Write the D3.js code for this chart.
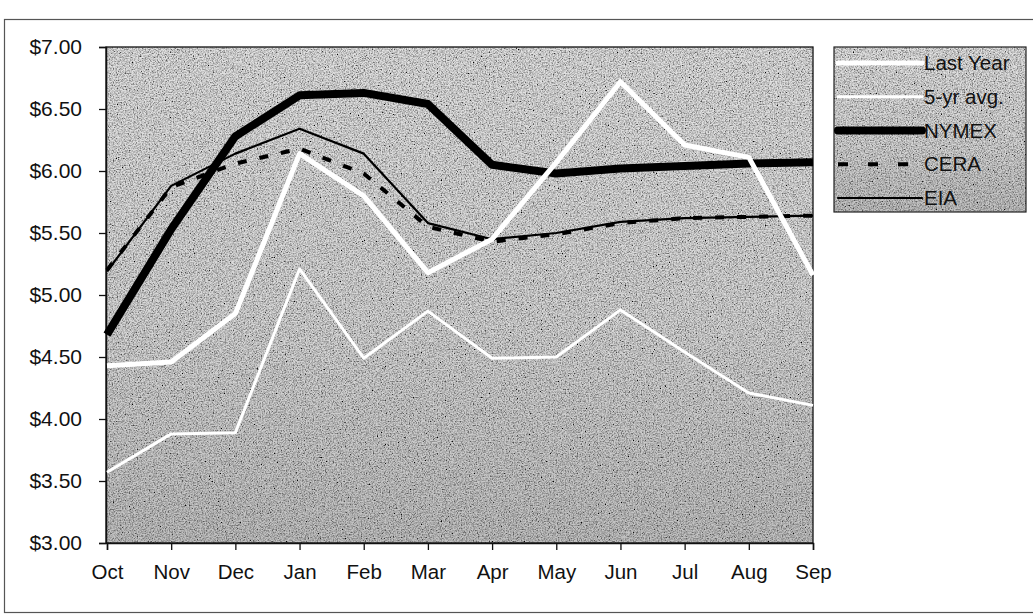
<!DOCTYPE html>
<html>
<head>
<meta charset="utf-8">
<script src="https://cdn.jsdelivr.net/npm/d3@7"></script>
<style>
  html, body { margin: 0; padding: 0; background: #fff; }
  svg { display: block; }
  text { font-family: "Liberation Sans", Arial, sans-serif; fill: #111; }
</style>
</head>
<body>
<svg id="chart" width="1033" height="616"></svg>
<script>
// Natural gas price outlook by month ($ per unit)
const months = ["Oct", "Nov", "Dec", "Jan", "Feb", "Mar", "Apr", "May", "Jun", "Jul", "Aug", "Sep"];
const lastYear = [4.43, 4.46, 4.85, 6.14, 5.80, 5.18, 5.45, 6.07, 6.72, 6.21, 6.11, 5.16];
const fiveYrAvg = [3.57, 3.88, 3.89, 5.21, 4.49, 4.87, 4.49, 4.50, 4.88, 4.54, 4.21, 4.11];
const nymex = [4.68, 5.53, 6.28, 6.61, 6.63, 6.54, 6.05, 5.98, 6.02, 6.04, 6.06, 6.07];
const cera = [5.20, 5.87, 6.06, 6.18, 5.98, 5.55, 5.43, 5.49, 5.58, 5.62, 5.63, 5.64];
const eia = [5.19, 5.88, 6.14, 6.34, 6.14, 5.58, 5.45, 5.50, 5.59, 5.62, 5.63, 5.64];
const yTicks = [3.0, 3.5, 4.0, 4.5, 5.0, 5.5, 6.0, 6.5, 7.0];
const seriesNames = ["Last Year", "5-yr avg.", "NYMEX", "CERA", "EIA"];

const series = [
  { name: seriesNames[0], values: lastYear, color: "#ffffff", width: 5, dash: null },
  { name: seriesNames[1], values: fiveYrAvg, color: "#ffffff", width: 3, dash: null },
  { name: seriesNames[2], values: nymex, color: "#000000", width: 8, dash: null },
  { name: seriesNames[3], values: cera, color: "#000000", width: 4, dash: "9,13" },
  { name: seriesNames[4], values: eia, color: "#000000", width: 2.2, dash: null }
];

const svg = d3.select("#chart");
const plot = { left: 106, right: 813, top: 47, bottom: 543 };

// grainy grey fill used behind the plot and the legend
const defs = svg.append("defs");
const grad = defs.append("linearGradient").attr("id", "shade")
  .attr("x1", 0).attr("y1", 0).attr("x2", 0).attr("y2", 1);
grad.append("stop").attr("offset", "0%").attr("stop-color", "#e2e2e2");
grad.append("stop").attr("offset", "55%").attr("stop-color", "#d8d8d8");
grad.append("stop").attr("offset", "100%").attr("stop-color", "#c2c2c2");

const grain = defs.append("filter").attr("id", "grain")
  .attr("x", 0).attr("y", 0).attr("width", "100%").attr("height", "100%");
grain.append("feTurbulence").attr("type", "fractalNoise")
  .attr("baseFrequency", "0.75").attr("numOctaves", 2).attr("seed", 7).attr("result", "noise");
grain.append("feColorMatrix").attr("in", "noise").attr("type", "matrix")
  .attr("values", "0.33 0.33 0.33 0 0  0.33 0.33 0.33 0 0  0.33 0.33 0.33 0 0  0 0 0 0 1")
  .attr("result", "grey");
const ct = grain.append("feComponentTransfer").attr("in", "grey").attr("result", "contrast");
["feFuncR", "feFuncG", "feFuncB"].forEach(f =>
  ct.append(f).attr("type", "linear").attr("slope", 3.4).attr("intercept", -0.95));
grain.append("feBlend").attr("in", "contrast").attr("in2", "SourceGraphic").attr("mode", "multiply");

// outer frame
svg.append("rect")
  .attr("x", 4.5).attr("y", 19.5).attr("width", 1040).attr("height", 593)
  .attr("fill", "none").attr("stroke", "#555").attr("stroke-width", 1.2);

const x = d3.scalePoint().domain(months).range([plot.left + 1, plot.right]);
const y = d3.scaleLinear().domain([3, 7]).range([plot.bottom, plot.top]);

// plot area
svg.append("rect")
  .attr("x", plot.left).attr("y", plot.top)
  .attr("width", plot.right - plot.left).attr("height", plot.bottom - plot.top)
  .attr("fill", "url(#shade)").attr("filter", "url(#grain)");
svg.append("rect")
  .attr("x", plot.left).attr("y", plot.top)
  .attr("width", plot.right - plot.left).attr("height", plot.bottom - plot.top)
  .attr("fill", "none").attr("stroke", "#111").attr("stroke-width", 1.3);

// axes
const yAxis = svg.append("g")
  .attr("transform", `translate(${plot.left},0)`)
  .call(d3.axisLeft(y).tickValues(yTicks).tickFormat(d3.format("$.2f")).tickSize(7).tickPadding(17));
yAxis.select(".domain").attr("stroke", "#111").attr("stroke-width", 1.5);
yAxis.selectAll(".tick line").attr("stroke", "#111").attr("stroke-width", 1.3);
yAxis.selectAll(".tick text").attr("font-size", "21px")
  .attr("font-family", "'Liberation Sans', Arial, sans-serif").attr("fill", "#111");

const xAxis = svg.append("g")
  .attr("transform", `translate(0,${plot.bottom})`)
  .call(d3.axisBottom(x).tickSize(7).tickPadding(14));
xAxis.select(".domain").attr("stroke", "#111").attr("stroke-width", 1.5);
xAxis.selectAll(".tick line").attr("stroke", "#111").attr("stroke-width", 1.3);
xAxis.selectAll(".tick text").attr("font-size", "20.5px")
  .attr("font-family", "'Liberation Sans', Arial, sans-serif").attr("fill", "#111");

// series lines (white lines drawn last so they sit on top)
const line = d3.line().x((d, i) => x(months[i])).y(d => y(d));
const drawOrder = [4, 3, 2, 1, 0];
drawOrder.forEach(k => {
  const s = series[k];
  svg.append("path")
    .datum(s.values)
    .attr("d", line)
    .attr("fill", "none")
    .attr("stroke", s.color)
    .attr("stroke-width", s.width)
    .attr("stroke-linejoin", "round")
    .attr("stroke-dasharray", s.dash);
});

// legend
const lg = { x: 834, y: 47, w: 192, h: 165 };
svg.append("rect")
  .attr("x", lg.x).attr("y", lg.y).attr("width", lg.w).attr("height", lg.h)
  .attr("fill", "url(#shade)").attr("filter", "url(#grain)");
svg.append("rect")
  .attr("x", lg.x).attr("y", lg.y).attr("width", lg.w).attr("height", lg.h)
  .attr("fill", "none").attr("stroke", "#222").attr("stroke-width", 1.2);

const rowY = d3.scalePoint().domain(seriesNames).range([63, 198]);
series.forEach(s => {
  const yy = rowY(s.name);
  svg.append("line")
    .attr("x1", 838).attr("x2", 922).attr("y1", yy).attr("y2", yy)
    .attr("stroke", s.color).attr("stroke-width", s.width)
    .attr("stroke-linecap", s.dash ? "butt" : "round")
    .attr("stroke-dasharray", s.dash ? "10,20" : null);
  svg.append("text")
    .attr("x", 924).attr("y", yy + 7)
    .attr("font-size", "20.5px")
    .text(s.name);
});
</script>
</body>
</html>
